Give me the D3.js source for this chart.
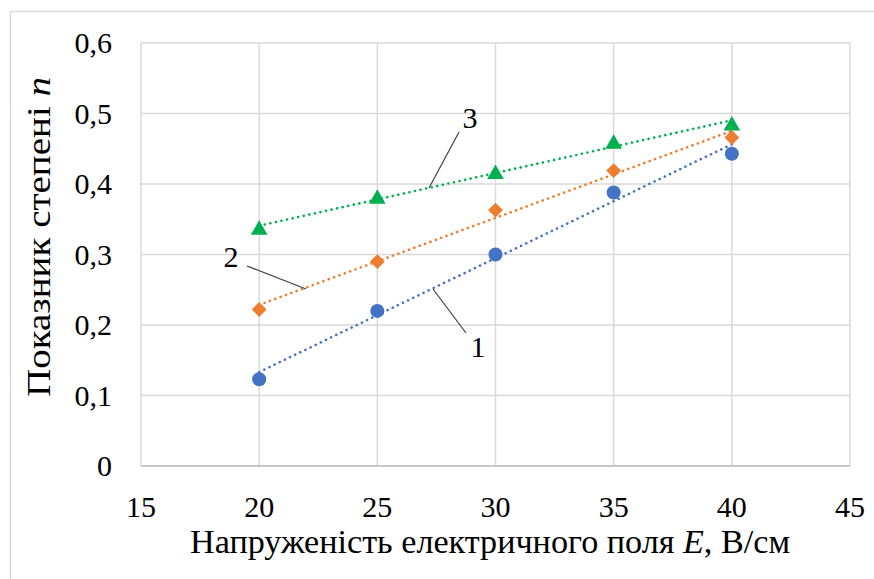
<!DOCTYPE html>
<html>
<head>
<meta charset="utf-8">
<script src="https://cdn.jsdelivr.net/npm/d3@7"></script>
<style>
  body { margin: 0; background: #fff; }
</style>
</head>
<body>
<svg id="chart" width="874" height="579"></svg>
<script>
"use strict";

// field strength E, V/cm
var fieldE = [20, 25, 30, 35, 40];
// exponent n, one list per curve
var curve1 = [0.123, 0.220, 0.300, 0.388, 0.443];
var curve2 = [0.222, 0.290, 0.363, 0.419, 0.466];
var curve3 = [0.337, 0.381, 0.416, 0.459, 0.485];
var xTicks = [15, 20, 25, 30, 35, 40, 45];
var yTicks = [0, 0.1, 0.2, 0.3, 0.4, 0.5, 0.6];

var series = [
  { name: "1", values: curve1, colour: "#4472C4", shape: d3.symbolCircle,   size: 155, rot: 0 },
  { name: "2", values: curve2, colour: "#ED7D31", shape: d3.symbolSquare,   size: 110, rot: 45 },
  { name: "3", values: curve3, colour: "#00B050", shape: d3.symbolTriangle, size: 120, rot: 0 }
];

var FONT = "'Liberation Serif'";

var svg = d3.select("#chart");
var plot = { x: 141, y: 43, w: 709, h: 423 };

var x = d3.scaleLinear().domain([15, 45]).range([plot.x, plot.x + plot.w]);
var y = d3.scaleLinear().domain([0, 0.6]).range([plot.y + plot.h, plot.y]);
var fmt = function(d) { return d === 0 ? "0" : d3.format(".1f")(d).replace(".", ","); };

// outer chart border (cut off at right/bottom like the picture)
svg.append("rect")
  .attr("x", 10.5).attr("y", 11.5)
  .attr("width", 900).attr("height", 600)
  .style("fill", "#fff")
  .style("stroke", "#d9d9d9")
  .style("stroke-width", 1.5);

// grid
var grid = svg.append("g").style("stroke", "#d9d9d9").style("stroke-width", 1.5);
grid.selectAll("line.v").data(xTicks).enter()
  .append("line")
    .attr("x1", function(d) { return x(d); })
    .attr("x2", function(d) { return x(d); })
    .attr("y1", y(0)).attr("y2", y(0.6));
grid.selectAll("line.h").data(yTicks).enter()
  .append("line")
    .attr("x1", x(15)).attr("x2", x(45))
    .attr("y1", function(d) { return y(d); })
    .attr("y2", function(d) { return y(d); });
// the x axis baseline is a bit darker
svg.append("line")
  .attr("x1", x(15)).attr("x2", x(45))
  .attr("y1", y(0)).attr("y2", y(0))
  .style("stroke", "#bfbfbf").style("stroke-width", 1.5);

// tick labels
svg.append("g").selectAll("text").data(xTicks).enter()
  .append("text")
    .attr("x", function(d) { return x(d); })
    .attr("y", 517)
    .attr("text-anchor", "middle")
    .style("font-family", FONT)
    .style("font-size", "30px")
    .text(function(d) { return d; });
svg.append("g").selectAll("text").data(yTicks).enter()
  .append("text")
    .attr("x", 112)
    .attr("y", function(d) { return y(d); })
    .attr("dy", "0.34em")
    .attr("text-anchor", "end")
    .style("font-family", FONT)
    .style("font-size", "30px")
    .text(fmt);

// axis titles
var xt = svg.append("text")
  .attr("x", 490).attr("y", 553)
  .attr("text-anchor", "middle")
  .attr("textLength", 600)
  .attr("lengthAdjust", "spacingAndGlyphs")
  .style("font-family", FONT)
  .style("font-size", "34px");
xt.append("tspan").text("Напруженість електричного поля ");
xt.append("tspan").style("font-style", "italic").text("E");
xt.append("tspan").text(", В/см");

var yt = svg.append("text")
  .attr("transform", "translate(50,237) rotate(-90)")
  .attr("text-anchor", "middle")
  .attr("textLength", 320)
  .attr("lengthAdjust", "spacingAndGlyphs")
  .style("font-family", FONT)
  .style("font-size", "33px");
yt.append("tspan").text("Показник степені ");
yt.append("tspan").style("font-style", "italic").text("n");

// linear trend lines (least squares on each curve)
var fit = function(vals) {
  var mx = d3.mean(fieldE), my = d3.mean(vals);
  var sxy = d3.sum(fieldE, function(e, i) { return (e - mx) * (vals[i] - my); });
  var sxx = d3.sum(fieldE, function(e) { return (e - mx) * (e - mx); });
  var k = sxy / sxx;
  return function(e) { return my + k * (e - mx); };
};

series.forEach(function(s) {
  var f = fit(s.values);
  var ends = [d3.min(fieldE), d3.max(fieldE)];
  svg.append("path")
    .datum(ends)
    .attr("d", d3.line()
      .x(function(e) { return x(e); })
      .y(function(e) { return y(f(e)); }))
    .style("fill", "none")
    .style("stroke", s.colour)
    .style("stroke-width", 2.6)
    .style("stroke-linecap", "round")
    .style("stroke-dasharray", "0.1 5.6");
});

// markers
series.forEach(function(s) {
  svg.append("g").selectAll("path").data(s.values).enter()
    .append("path")
      .attr("transform", function(v, i) {
        var dy = s.shape === d3.symbolTriangle ? 1.5 : 0;
        return "translate(" + x(fieldE[i]) + "," + (y(v) + dy) + ") rotate(" + s.rot + ")";
      })
      .attr("d", d3.symbol().type(s.shape).size(s.size))
      .style("fill", s.colour);
});

// curve labels with leader lines
var labels = [
  { text: "3", tx: 470, ty: 128, x1: 459, y1: 132, x2: 429, y2: 188 },
  { text: "2", tx: 231, ty: 267, x1: 247, y1: 266, x2: 306, y2: 289 },
  { text: "1", tx: 478, ty: 357, x1: 466, y1: 333, x2: 433, y2: 289 }
];
var lg = svg.append("g");
lg.selectAll("line").data(labels).enter()
  .append("line")
    .attr("x1", function(d) { return d.x1; })
    .attr("y1", function(d) { return d.y1; })
    .attr("x2", function(d) { return d.x2; })
    .attr("y2", function(d) { return d.y2; })
    .style("stroke", "#404040")
    .style("stroke-width", 1.2);
lg.selectAll("text").data(labels).enter()
  .append("text")
    .attr("x", function(d) { return d.tx; })
    .attr("y", function(d) { return d.ty; })
    .attr("text-anchor", "middle")
    .style("font-family", FONT)
    .style("font-size", "30px")
    .text(function(d) { return d.text; });
</script>
</body>
</html>
